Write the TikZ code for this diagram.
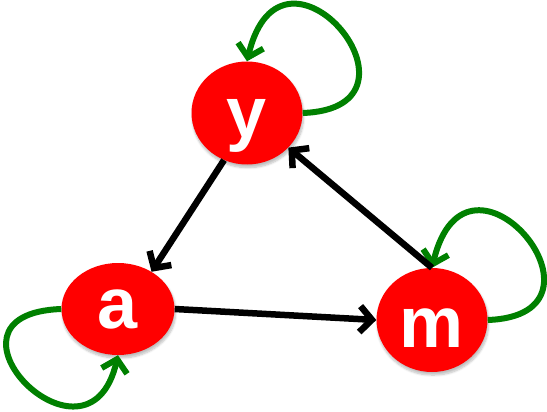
\documentclass[tikz,border=0pt]{standalone}
\usepackage{fontspec}
\setmainfont{Liberation Sans}
\usetikzlibrary{arrows.meta,shapes.geometric,shadows.blur}
\definecolor{loopgreen}{RGB}{0,128,0}
\tikzset{
  vertex/.style={ellipse, fill=red, draw=none, inner sep=0pt, text=white,
    font=\fontsize{72}{72}\selectfont\bfseries, text depth=0pt,
    blur shadow={shadow xshift=1pt, shadow yshift=-3pt, shadow opacity=25, shadow blur steps=6, shadow blur extra rounding=2pt}},
  edge/.style={line width=6.5pt, draw=black, -{Straight Barb[length=12pt,width=26pt]}},
  selfloop/.style={line width=6pt, draw=loopgreen, -{Straight Barb[length=12pt,width=26pt]}}
}
\begin{document}
\begin{tikzpicture}[x=1pt,y=-1pt]
\useasboundingbox (0,0) rectangle (547,412);
\node[vertex, minimum width=111pt, minimum height=103pt, text height=50pt] (y) at (247,113) {y};
\node[vertex, minimum width=113pt, minimum height=92pt, text height=38pt] (a) at (118,309) {a};
\node[vertex, minimum width=111pt, minimum height=104pt, text height=54pt] (m) at (432,320) {m};
\draw[selfloop] (y.east) .. controls +(140,-5) and +(35,-147) .. (y.north);
\draw[selfloop] (m.east) .. controls +(140,-5) and +(35,-147) .. (m.north);
\draw[selfloop] (a.west) .. controls +(-140,5) and +(-30,130) .. (a.south);
\draw[edge] (y.244) -- (a.48);
\draw[edge] (a.east) -- (m.west);
\draw[edge] (m.north) -- (y);
\end{tikzpicture}
\end{document}
